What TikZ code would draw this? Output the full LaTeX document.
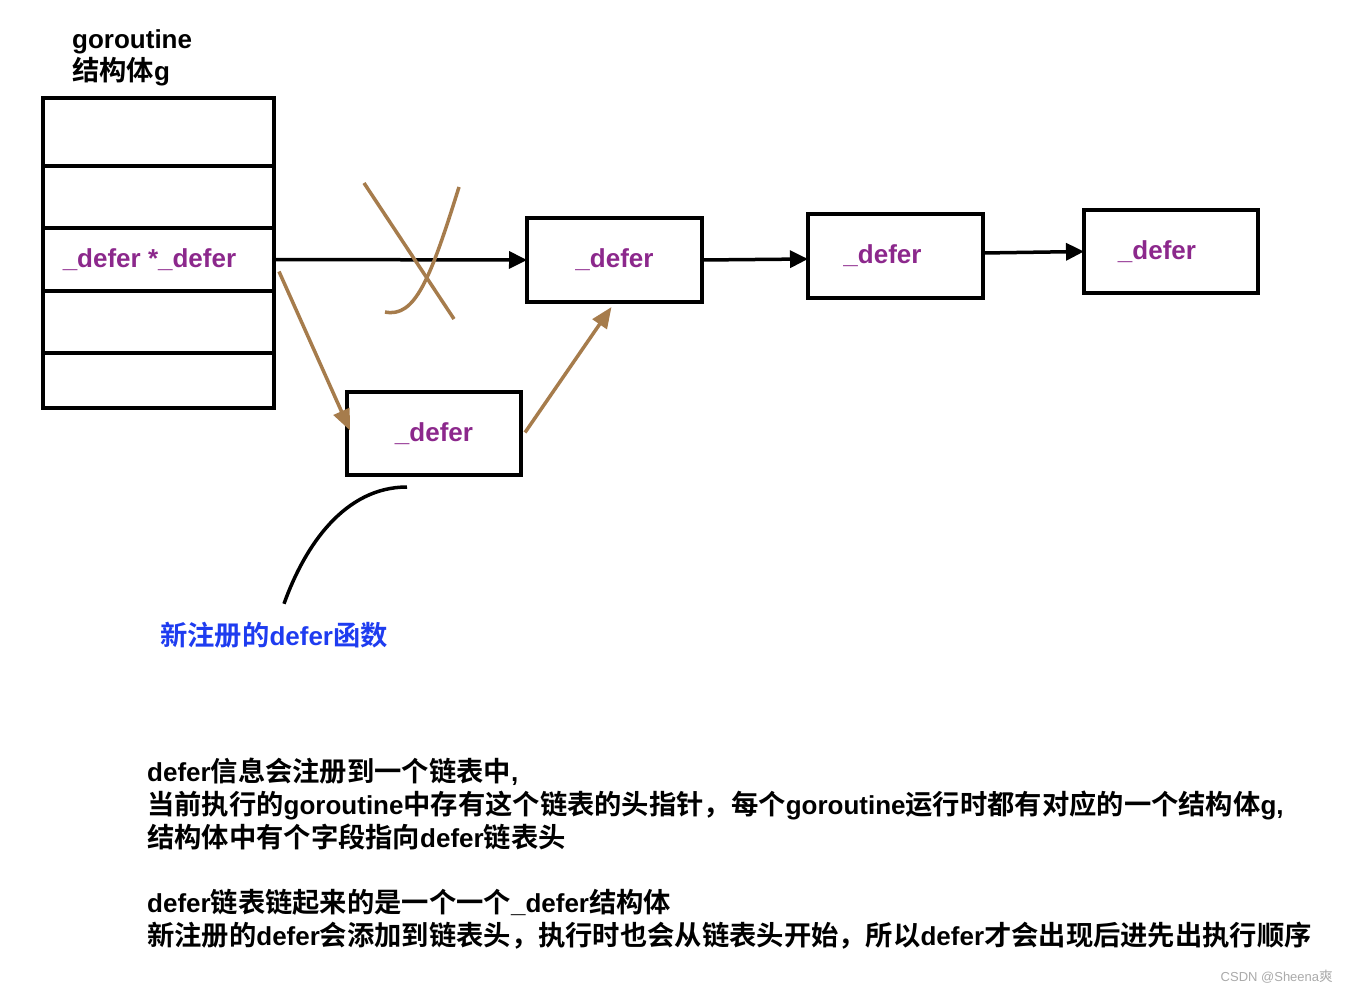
\documentclass[tikz,border=0pt]{standalone}
\usepackage{fontspec}
\setmainfont{Liberation Sans}
\newfontfamily\cjk[Scale=1.05,BoldFont={* Bold}]{Noto Sans CJK SC}
\newcommand\zh[1]{{\cjk #1}}
\usetikzlibrary{arrows.meta,calc}
\definecolor{dpurple}{RGB}{140,40,140}
\definecolor{dblue}{RGB}{30,60,240}
\definecolor{dbrown}{RGB}{166,124,76}
\definecolor{wgray}{RGB}{170,170,170}
\begin{document}
\begin{tikzpicture}[x=1pt,y=-1pt,
  cell/.style={draw,line width=3.5pt,minimum width=231pt,outer sep=0pt,inner sep=0pt,
    font=\bfseries\fontsize{26pt}{30pt}\selectfont,text=dpurple},
  dbox/.style={draw,line width=3.5pt,minimum width=175pt,minimum height=84pt,outer sep=0pt,inner sep=0pt,
    font=\bfseries\fontsize{26pt}{30pt}\selectfont,text=dpurple},
  blk/.style={line width=3.5pt,-{Triangle[length=18pt,width=17pt]}},
  brn/.style={line width=3.5pt,draw=dbrown,-{Triangle[length=21pt,width=17pt]},fill=dbrown},
  txt/.style={anchor=base west,inner sep=0pt,font=\bfseries\fontsize{26pt}{33pt}\selectfont},
]
\useasboundingbox[fill=white] (0,0) rectangle (1348,992);

% title
\node[txt] (t1) at (72,49) {goroutine};
\node[txt] (t2) at (72,81) {\zh{结构体}g};

% struct g
\node[cell,minimum height=68pt] (r1) at (158.5,132) {};
\node[cell,minimum height=62pt] (r2) at (158.5,197) {};
\node[cell,minimum height=63pt] (r3) at (158.5,259.5) {\hspace*{-18pt}\_defer *\_defer};
\node[cell,minimum height=62pt] (r4) at (158.5,322) {};
\node[cell,minimum height=55pt] (r5) at (158.5,380.5) {};

% defer boxes
\node[dbox] (b1) at (614.5,260) {\_defer};
\node[dbox] (b2) at (895.5,256) {\hspace*{-26pt}\_defer};
\node[dbox,minimum width=174pt,minimum height=83pt] (b3) at (1171,251.5) {\hspace*{-28pt}\_defer};
\node[dbox,minimum width=174pt,minimum height=83pt] (lo) at (434,433.5) {\_defer};

% black chain arrows
\draw[blk] (r3.east) -- (b1.west);
\draw[blk] (b1.east) -- ($(b2.west)+(0,3)$);
\draw[blk] ($(b2.east)+(0,-3)$) -- (b3.west);

% brown new-link arrows
\draw[brn] ($(r3.east)+(5,12)$) -- ($(lo.west)+(3,-3)$);
\draw[brn] ($(lo.east)+(4,-1)$) -- ($(b1.south)+(-3,5)$);

% cross
\draw[dbrown,line width=3.5pt] (364,183) -- (454,319);
\draw[dbrown,line width=3.5pt] (459,187) .. controls (430,280) and (415,318) .. (385,312);

% annotation
\node[txt,anchor=center,text=dblue] (ann) at (274,635) {\zh{新注册的}defer\zh{函数}};
\coordinate (cs) at ($(lo.south)+(-27,12)$);
\draw[line width=3.5pt] (cs) .. controls (345,487) and (305,545) .. ($(ann.north)+(10,-18)$);

% explanation
\node[txt] (l1) at (147,781) {defer\zh{信息会注册到一个链表中},};
\node[txt] (l2) at (147,814) {\zh{当前执行的}goroutine\zh{中存有这个链表的头指针，每个}goroutine\zh{运行时都有对应的一个结构体}g,};
\node[txt] (l3) at (147,847) {\zh{结构体中有个字段指向}defer\zh{链表头}};
\node[txt] (l4) at (147,912) {defer\zh{链表链起来的是一个一个}\_defer\zh{结构体}};
\node[txt] (l5) at (147,945) {\zh{新注册的}defer\zh{会添加到链表头，执行时也会从链表头开始，所以}defer\zh{才会出现后进先出执行顺序}};

% watermark
\node[anchor=base east,inner sep=0pt,text=wgray,font=\fontsize{13pt}{15pt}\selectfont] (wm) at (1333,981) {CSDN @Sheena\zh{爽}};
\end{tikzpicture}
\end{document}
